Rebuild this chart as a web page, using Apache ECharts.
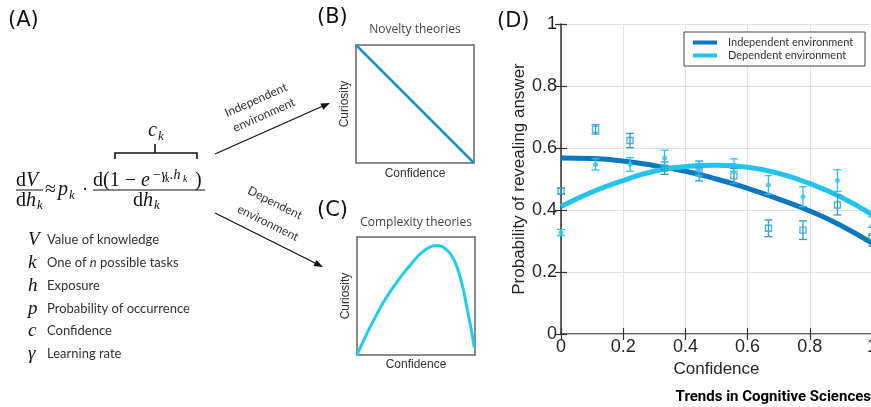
<!DOCTYPE html>
<html><head><meta charset="utf-8">
<script src="https://cdn.jsdelivr.net/npm/echarts@6/dist/echarts.min.js"></script>
<style>html,body{margin:0;padding:0;background:#fff}#c{width:871px;height:407px}</style>
</head><body><div id="c"></div>
<script>
// ---- Data ----
const confBins = [0, 0.111, 0.222, 0.333, 0.444, 0.556, 0.667, 0.778, 0.889, 1];
const indepMean = [0.461, 0.660, 0.624, 0.535, 0.526, 0.510, 0.341, 0.335, 0.416, 0.314];
const indepErr  = [0.010, 0.015, 0.023, 0.020, 0.032, 0.024, 0.027, 0.030, 0.032, 0.030];
const depMean   = [0.327, 0.547, 0.547, 0.568, 0.530, 0.545, 0.481, 0.443, 0.495, 0.348];
const depErr    = [0.010, 0.018, 0.022, 0.025, 0.020, 0.020, 0.030, 0.032, 0.035, 0.030];
const fitX      = [0, 0.1, 0.2, 0.3, 0.4, 0.5, 0.6, 0.7, 0.8, 0.9, 1.0];
const indepFit  = [0.568, 0.566, 0.558, 0.543, 0.525, 0.500, 0.470, 0.435, 0.397, 0.350, 0.293];
const depFit    = [0.411, 0.458, 0.495, 0.525, 0.540, 0.544, 0.538, 0.518, 0.485, 0.442, 0.385];
const noveltyX  = [0, 1];
const noveltyY  = [1, 0];
const complexX  = [0, 0.05, 0.1, 0.15, 0.2, 0.25, 0.3, 0.35, 0.4, 0.45, 0.5, 0.55, 0.6, 0.65, 0.7, 0.75, 0.8, 0.85, 0.9, 0.93, 0.96, 0.98, 0.995];
const complexY  = [0, 0.11, 0.215, 0.31, 0.405, 0.49, 0.565, 0.635, 0.70, 0.76, 0.82, 0.87, 0.905, 0.926, 0.925, 0.90, 0.845, 0.74, 0.56, 0.41, 0.26, 0.15, 0.06];
const yTicks = [0, 0.2, 0.4, 0.6, 0.8, 1];
const seriesNames = ['Independent environment', 'Dependent environment'];
const glossSym = ['V', 'k', 'h', 'p', 'c', 'γ'];
const glossTxt = ['Value of knowledge', 'One of {i|n} possible tasks', 'Exposure', 'Probability of occurrence', 'Confidence', 'Learning rate'];

// ---- Colours ----
const cIndep = '#0a78bf', cDep = '#22c4ee', cSq = '#2a9ed6', cDot = '#2ec4ef';

const zip = (a, b) => a.map((v, i) => [v, b[i]]);
const errData = (m, e) => confBins.map((x, i) => [x, m[i] - e[i], m[i] + e[i]]);

function errBar(color) {
  return function (params, api) {
    const x = api.value(0);
    const p1 = api.coord([x, api.value(1)]);
    const p2 = api.coord([x, api.value(2)]);
    const w = 4;
    const st = { stroke: color, lineWidth: 1.3 };
    return { type: 'group', children: [
      { type: 'line', shape: { x1: p1[0], y1: p1[1], x2: p2[0], y2: p2[1] }, style: st },
      { type: 'line', shape: { x1: p1[0] - w, y1: p1[1], x2: p1[0] + w, y2: p1[1] }, style: st },
      { type: 'line', shape: { x1: p2[0] - w, y1: p2[1], x2: p2[0] + w, y2: p2[1] }, style: st }
    ]};
  };
}

const serif = 'Liberation Serif';
const sans = 'Lato';
function t(x, y, text, o) {
  o = o || {};
  return { type: 'text', x: x, y: y, rotation: o.rot || 0, z: 20,
    style: { text: text, fontFamily: o.ff || serif, fontSize: o.fs || 20, fontStyle: o.it ? 'italic' : 'normal',
      fontWeight: o.fw || 'normal', fill: o.c || '#111', align: o.al || 'left', verticalAlign: 'middle', rich: o.rich } };
}
const eqRich = {
  a: { fontFamily: serif, fontSize: 20, fontStyle: 'normal', fill: '#111' },
  b: { fontFamily: serif, fontSize: 20, fontStyle: 'italic', fill: '#111' }
};
const ln = (x1, y1, x2, y2, w) => ({ type: 'line', z: 20, shape: { x1, y1, x2, y2 }, style: { stroke: '#111', lineWidth: w || 1 } });

const graphics = [
  // panel labels
  t(8, 21, '(A)', { ff: 'DejaVu Sans', fs: 21 }),
  t(317, 18, '(B)', { ff: 'DejaVu Sans', fs: 21 }),
  t(317, 211, '(C)', { ff: 'DejaVu Sans', fs: 21 }),
  t(497, 22, '(D)', { ff: 'DejaVu Sans', fs: 21 }),
  // equation
  t(16, 181, '{a|d}{b|V}', { rich: eqRich }),
  ln(16, 190, 43, 190),
  t(16, 201, '{a|d}{b|h}', { rich: eqRich }),
  t(37, 206, 'k', { it: true, fs: 13 }),
  t(45, 190, '≈', { fs: 20 }),
  t(58, 190, 'p', { it: true, fs: 20 }),
  t(69, 196, 'k', { it: true, fs: 13 }),
  t(82, 190, '·', { fs: 18 }),
  t(93, 181, '{a|d(1 − }{b|e}', { rich: eqRich }),
  t(152, 175, '−γ', { it: true, fs: 14 }),
  t(165, 179, 'k', { it: true, fs: 10 }),
  t(170, 175, '.h', { it: true, fs: 14 }),
  t(183, 179, 'k', { it: true, fs: 10 }),
  t(195, 181, ')', { fs: 20 }),
  ln(93, 190, 205, 190),
  t(133, 201, '{a|d}{b|h}', { rich: eqRich }),
  t(154, 206, 'k', { it: true, fs: 13 }),
  { type: 'polyline', z: 20, shape: { points: [[115, 159], [115, 153], [197, 153], [197, 159]] }, style: { stroke: '#111', lineWidth: 1.6, fill: null } },
  ln(155, 153, 155, 144, 1.6),
  t(148, 131, 'c', { it: true, fs: 20 }),
  t(158, 137, 'k', { it: true, fs: 13 }),
  // arrows
  ln(215, 154, 323, 106, 1.3),
  { type: 'polygon', z: 20, shape: { points: [[330, 103], [323.2, 109.8], [320.4, 103.4]] }, style: { fill: '#111' } },
  ln(215, 213, 316, 263.5, 1.3),
  { type: 'polygon', z: 20, shape: { points: [[323, 267], [313.4, 266.1], [316.5, 259.9]] }, style: { fill: '#111' } },
  t(256, 100, 'Independent', { ff: sans, fs: 12, c: '#333', al: 'center', rot: 0.42 }),
  t(264, 115, 'environment', { ff: sans, fs: 12, c: '#333', al: 'center', rot: 0.42 }),
  t(275, 203, 'Dependent', { ff: sans, fs: 12, c: '#333', al: 'center', rot: -0.46 }),
  t(268, 223, 'environment', { ff: sans, fs: 12, c: '#333', al: 'center', rot: -0.46 }),
  // panel titles
  t(415, 30, 'Novelty theories', { ff: 'Open Sans', fs: 12, c: '#444', al: 'center' }),
  t(416, 223, 'Complexity theories', { ff: 'Open Sans', fs: 12, c: '#444', al: 'center' }),
  // legend box for D
  { type: 'rect', z: 9, shape: { x: 684, y: 32, width: 181, height: 34 }, style: { fill: '#fff', stroke: '#444', lineWidth: 1 } },
  // source
  t(871, 397, 'Trends in Cognitive Sciences', { ff: 'Roboto', fs: 15, fw: 'bold', c: '#000', al: 'right' })
];
const gy = [240, 263, 286, 309, 331, 354];
glossSym.forEach((s, i) => {
  graphics.push(t(28, gy[i], s, { it: true, fs: 19 }));
  graphics.push(t(47, gy[i], glossTxt[i], { ff: sans, fs: 13, c: '#333',
    rich: { i: { fontFamily: sans, fontSize: 13, fontStyle: 'italic', fill: '#333' } } }));
});

const smallAxisX = (gi, gap) => ({ gridIndex: gi, type: 'value', min: 0, max: 1, name: 'Confidence', nameLocation: 'middle', nameGap: gap,
  nameTextStyle: { fontFamily: 'Liberation Sans', fontSize: 12, color: '#333' },
  axisLine: { show: false }, axisTick: { show: false }, axisLabel: { show: false }, splitLine: { show: false } });
const smallAxisY = (gi) => ({ gridIndex: gi, type: 'value', min: 0, max: 1, name: 'Curiosity', nameLocation: 'middle', nameGap: 5, nameRotate: 90,
  nameTextStyle: { fontFamily: 'Liberation Sans', fontSize: 12, color: '#333' },
  axisLine: { show: false }, axisTick: { show: false }, axisLabel: { show: false }, splitLine: { show: false } });

const axisFont = { fontFamily: 'Liberation Sans', fontSize: 18, color: '#262626' };
const option = {
  animation: false,
  backgroundColor: '#fff',
  grid: [
    { left: 561, top: 24, width: 311, height: 310, show: false, containLabel: false, outerBoundsMode: 'none' },
    { left: 356, top: 45, width: 118, height: 118, show: true, borderColor: '#666', borderWidth: 1.5, outerBoundsMode: 'none' },
    { left: 357, top: 237, width: 118, height: 118, show: true, borderColor: '#666', borderWidth: 1.5, outerBoundsMode: 'none' }
  ],
  xAxis: [
    { gridIndex: 0, type: 'value', min: 0, max: 1, interval: 0.2, position: 'bottom',
      name: 'Confidence', nameLocation: 'middle', nameGap: 27, nameTextStyle: { fontFamily: 'Liberation Sans', fontSize: 17, color: '#262626' },
      axisLine: { show: true, lineStyle: { color: '#333', width: 1.5 } },
      axisTick: { show: true, inside: true, length: 6, lineStyle: { color: '#333', width: 1.2 } },
      axisLabel: Object.assign({ margin: 4, showMaxLabel: true }, axisFont),
      splitLine: { show: true, lineStyle: { color: '#e3e3e3', width: 1 } } },
    { gridIndex: 0, type: 'value', min: 0, max: 1, interval: 0.2, position: 'top',
      axisLine: { show: true, lineStyle: { color: '#bbb', width: 1 } },
      axisTick: { show: true, inside: true, length: 6, lineStyle: { color: '#333', width: 1.2 } },
      axisLabel: { show: false }, splitLine: { show: false } },
    smallAxisX(1, 5),
    smallAxisX(2, 4)
  ],
  yAxis: [
    { gridIndex: 0, type: 'value', min: 0, max: 1, interval: 0.2, position: 'left',
      name: 'Probability of revealing answer', nameLocation: 'middle', nameGap: 33, nameRotate: 90,
      nameTextStyle: { fontFamily: 'Liberation Sans', fontSize: 17, color: '#262626' },
      axisLine: { show: true, lineStyle: { color: '#333', width: 1.5 } },
      axisTick: { show: true, inside: true, length: 6, lineStyle: { color: '#333', width: 1.2 } },
      axisLabel: Object.assign({ margin: 4, customValues: yTicks }, axisFont),
      splitLine: { show: true, lineStyle: { color: '#e3e3e3', width: 1 } } },
    { gridIndex: 0, type: 'value', min: 0, max: 1, interval: 0.2, position: 'right',
      axisLine: { show: true, lineStyle: { color: '#555', width: 1 } },
      axisTick: { show: true, inside: true, length: 6, lineStyle: { color: '#333', width: 1.2 } },
      axisLabel: { show: false }, splitLine: { show: false } },
    smallAxisY(1),
    smallAxisY(2)
  ],
  legend: {
    data: seriesNames, orient: 'vertical', left: 687, top: 36, z: 10,
    icon: 'rect', itemWidth: 24, itemHeight: 4, itemGap: 0,
    padding: [0, 0, 0, 6],
    textStyle: { fontFamily: sans, fontSize: 11, color: '#333', lineHeight: 13, padding: [0, 0, 0, 6] }
  },
  series: [
    { name: seriesNames[0], type: 'line', xAxisIndex: 0, yAxisIndex: 0, data: zip(fitX, indepFit), smooth: true,
      symbol: 'none', lineStyle: { color: cIndep, width: 5 }, itemStyle: { color: cIndep }, z: 2 },
    { name: seriesNames[1], type: 'line', xAxisIndex: 0, yAxisIndex: 0, data: zip(fitX, depFit), smooth: true,
      symbol: 'none', lineStyle: { color: cDep, width: 5 }, itemStyle: { color: cDep }, z: 2 },
    { type: 'custom', xAxisIndex: 0, yAxisIndex: 0, renderItem: errBar(cSq), data: errData(indepMean, indepErr), z: 3, clip: false },
    { type: 'custom', xAxisIndex: 0, yAxisIndex: 0, renderItem: errBar(cDot), data: errData(depMean, depErr), z: 3, clip: false },
    { type: 'scatter', xAxisIndex: 0, yAxisIndex: 0, data: zip(confBins, indepMean), symbol: 'rect', symbolSize: 6,
      itemStyle: { color: 'rgba(255,255,255,0)', borderColor: cSq, borderWidth: 1.4 }, z: 4 },
    { type: 'scatter', xAxisIndex: 0, yAxisIndex: 0, data: zip(confBins, depMean), symbol: 'circle', symbolSize: 5,
      itemStyle: { color: cDot }, z: 4 },
    { type: 'line', xAxisIndex: 2, yAxisIndex: 2, data: zip(noveltyX, noveltyY), symbol: 'none',
      lineStyle: { color: '#1b8fd2', width: 2.5 } },
    { type: 'line', xAxisIndex: 3, yAxisIndex: 3, data: zip(complexX, complexY), symbol: 'none', smooth: 0.2,
      lineStyle: { color: '#1ccdf0', width: 3 } }
  ],
  graphic: { elements: graphics }
};
const chart = echarts.init(document.getElementById('c'), null, { renderer: 'canvas' });
chart.setOption(option);
</script></body></html>
